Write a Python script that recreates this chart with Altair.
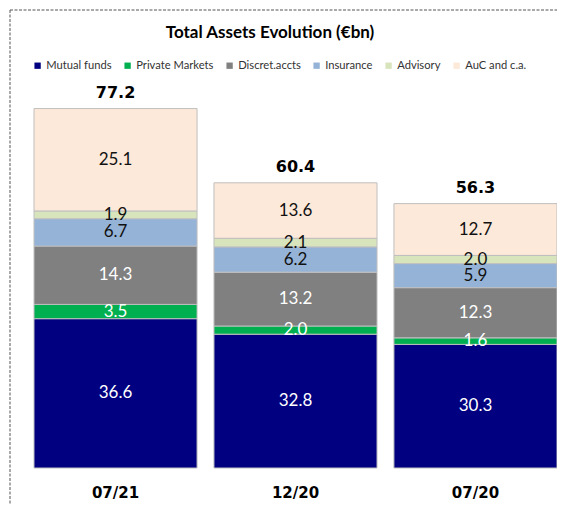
import altair as alt
import pandas as pd

periods = ["07/21", "12/20", "07/20"]
categories = ["Mutual funds", "Private Markets", "Discret.accts", "Insurance", "Advisory", "AuC and c.a."]
mutual_funds = [36.6, 32.8, 30.3]
private_markets = [3.5, 2.0, 1.6]
discret_accts = [14.3, 13.2, 12.3]
insurance = [6.7, 6.2, 5.9]
advisory = [1.9, 2.1, 2.0]
auc = [25.1, 13.6, 12.7]
totals = [77.2, 60.4, 56.3]
colors = ["#000080", "#00B050", "#808080", "#95B3D7", "#D8E4BC", "#FDE9D9"]
title_text = "Total Assets Evolution (€bn)"

series = [mutual_funds, private_markets, discret_accts, insurance, advisory, auc]
rows = []
for i, p in enumerate(periods):
    for j, c in enumerate(categories):
        rows.append({"period": p, "category": c, "idx": j, "value": series[j][i]})
df = pd.DataFrame(rows)
tdf = pd.DataFrame({
    "period": periods,
    "total": totals,
    "top": [sum(s[i] for s in series) for i in range(len(periods))],
})

yscale = alt.Scale(domain=[0, 100])
x = alt.X("period:N", sort=periods,
          scale=alt.Scale(paddingInner=0.094, paddingOuter=0),
          axis=alt.Axis(title=None, labelAngle=0, ticks=False, domain=False, grid=False,
                        labelFont="DejaVu Sans", labelFontWeight="bold", labelFontSize=15,
                        labelColor="#000000", labelPadding=17))

base = alt.Chart(df).transform_stack(
    stack="value", groupby=["period"], as_=["y0", "y1"],
    sort=[alt.SortField("idx", order="ascending")]
).transform_calculate(mid="(datum.y0 + datum.y1) / 2")

bars = base.mark_bar(stroke="#BFBFBF", strokeWidth=1).encode(
    x=x,
    y=alt.Y("y0:Q", scale=yscale, axis=None),
    y2="y1:Q",
    color=alt.Color("category:N", scale=alt.Scale(domain=categories, range=colors),
                    legend=alt.Legend(title=None, orient="none", legendX=-2, legendY=0,
                                      direction="horizontal", columns=6, symbolType="square",
                                      symbolSize=40, symbolStrokeWidth=0, labelFont="Lato",
                                      labelFontSize=11.2, labelColor="#333333", columnPadding=10,
                                      labelOffset=3, padding=0)),
)

white_labels = base.transform_filter("datum.idx < 3").mark_text(
    font="Lato", fontSize=17, color="#FFFFFF"
).encode(x=x, y=alt.Y("mid:Q", scale=yscale, axis=None), text=alt.Text("value:Q", format=".1f"))

dark_labels = base.transform_filter("datum.idx >= 3").mark_text(
    font="Lato", fontSize=17, color="#111111"
).encode(x=x, y=alt.Y("mid:Q", scale=yscale, axis=None), text=alt.Text("value:Q", format=".1f"))

total_labels = alt.Chart(tdf).mark_text(
    font="DejaVu Sans", fontWeight="bold", fontSize=16, dy=-16, color="#000000"
).encode(x=x, y=alt.Y("top:Q", scale=yscale, axis=None), text=alt.Text("total:Q", format=".1f"))

one_row = pd.DataFrame({"label": [title_text]})
title_mark = alt.Chart(one_row).mark_text(
    font="Lato", fontSize=17, fontWeight="bold", color="#000000", align="center", baseline="middle"
).encode(x=alt.value(236), y=alt.value(-27), text="label:N")

frame_top = alt.Chart(one_row).mark_rule(stroke="#555555", strokeDash=[3, 1.5], strokeWidth=1).encode(
    x=alt.value(-24), x2=alt.value(600), y=alt.value(-50))
frame_left = alt.Chart(one_row).mark_rule(stroke="#555555", strokeDash=[3, 1.5], strokeWidth=1).encode(
    x=alt.value(-24), y=alt.value(-50), y2=alt.value(500))

chart = alt.layer(frame_top, frame_left, title_mark, bars, white_labels, dark_labels, total_labels).properties(
    width=523, height=408,
    autosize=alt.AutoSizeParams(type="none"),
    padding={"left": 26, "top": 52, "right": 0, "bottom": 36},
).configure_view(stroke=None)

chart.save("out.html", embed_options={"renderer": "svg", "actions": False})
